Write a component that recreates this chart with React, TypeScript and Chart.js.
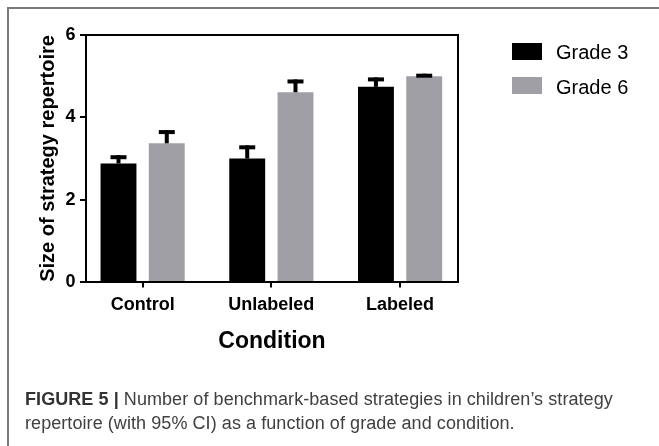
import React, { useEffect, useRef } from "react";
import { Chart, registerables } from "chart.js";

Chart.register(...registerables);

// ---- data ----
const categories = ["Control", "Unlabeled", "Labeled"];
const seriesNames = ["Grade 3", "Grade 6"];
const grade3 = [2.88, 3.0, 4.74];
const grade6 = [3.37, 4.61, 5.0];
const grade3Upper = [3.08, 3.32, 4.97];
const grade6Upper = [3.69, 4.92, 5.06];
const seriesColors = ["#000000", "#a09fa5"];
const yMin = 0;
const yMax = 6;
const yStep = 2;
const xTitle = "Condition";
const yTitle = "Size of strategy repertoire";
const captionBold = "FIGURE 5 |";
const captionLine1 = " Number of benchmark-based strategies in children\u2019s strategy";
const captionLine2 = "repertoire (with 95% CI) as a function of grade and condition.";

const FONT = "'Liberation Sans', Arial, Helvetica, sans-serif";
const uppers = [grade3Upper, grade6Upper];
const values = [grade3, grade6];

const errorBarsPlugin = {
  id: "errorBars",
  afterDatasetsDraw(chart: any) {
    const ctx = chart.ctx;
    const ys = chart.scales.y;
    ctx.save();
    ctx.fillStyle = "#000";
    uppers.forEach((upper, di) => {
      const meta = chart.getDatasetMeta(di);
      meta.data.forEach((bar: any, j: number) => {
        const top = ys.getPixelForValue(upper[j]);
        ctx.fillRect(bar.x - 2, top, 4, Math.max(0, bar.y - top));
        ctx.fillRect(bar.x - 8, top, 16, 4);
      });
    });
    ctx.restore();
  },
};

const boxPlugin = {
  id: "plotBox",
  afterDraw(chart: any) {
    const { left, top, right, bottom } = chart.chartArea;
    const ctx = chart.ctx;
    ctx.save();
    ctx.strokeStyle = "#000";
    ctx.lineWidth = 2;
    ctx.strokeRect(left, top, right - left, bottom - top);
    ctx.restore();
  },
};

export default function App() {
  const ref = useRef<HTMLCanvasElement | null>(null);

  useEffect(() => {
    if (!ref.current) return;
    const chart = new Chart(ref.current, {
      type: "bar",
      data: {
        datasets: values.map((vals, di) => ({
          label: seriesNames[di],
          data: vals.map((v, i) => ({ x: i, y: v })),
          backgroundColor: seriesColors[di],
          borderWidth: 0,
          categoryPercentage: 0.75,
          barPercentage: 0.744,
        })),
      },
      options: {
        animation: false,
        responsive: false,
        maintainAspectRatio: false,
        devicePixelRatio: 1,
        layout: { padding: { left: 0, top: 35, right: 201, bottom: 86 } },
        plugins: { legend: { display: false }, tooltip: { enabled: false } },
        scales: {
          x: {
            type: "linear",
            min: -0.44,
            max: 2.45,
            offset: false,
            afterFit: (s: any) => {
              s.height = 78;
            },
            ticks: {
              stepSize: 1,
              includeBounds: false,
              autoSkip: false,
              maxRotation: 0,
              padding: 6.5,
              color: "#000",
              font: { family: FONT, size: 18, weight: "bold" },
              callback: (v: any) => categories[v] ?? "",
            },
            grid: {
              display: true,
              offset: false,
              drawOnChartArea: false,
              drawTicks: true,
              tickLength: 5.5,
              lineWidth: 2,
              color: "#000",
            },
            border: { display: false },
            title: {
              display: true,
              text: xTitle,
              color: "#000",
              font: { family: FONT, size: 23, weight: "bold" },
              padding: { top: 0, bottom: 5 },
            },
          },
          y: {
            type: "linear",
            min: yMin,
            max: yMax,
            afterFit: (s: any) => {
              s.width = 86;
            },
            ticks: {
              stepSize: yStep,
              padding: 4.5,
              color: "#000",
              font: { family: FONT, size: 18, weight: "bold" },
            },
            grid: {
              display: true,
              drawOnChartArea: false,
              drawTicks: true,
              tickLength: 6,
              lineWidth: 2,
              color: "#000",
            },
            border: { display: false },
            title: {
              display: true,
              text: yTitle,
              color: "#000",
              font: { family: FONT, size: 20, weight: "bold" },
              padding: { top: 36.5, bottom: 0 },
            },
          },
        },
      } as any,
      plugins: [errorBarsPlugin, boxPlugin],
    });
    return () => chart.destroy();
  }, []);

  return (
    <div style={{ position: "absolute", left: 0, top: 0, width: 659, height: 446, overflow: "hidden", background: "#fff" }}>
      <canvas ref={ref} width={659} height={446} style={{ position: "absolute", left: 0, top: 0, width: 659, height: 446 }} />
      <div
        style={{
          position: "absolute",
          left: 7,
          top: 7,
          width: 652,
          height: 439,
          borderTop: "2px solid #7a7a7a",
          borderLeft: "2px solid #7a7a7a",
          boxSizing: "border-box",
          pointerEvents: "none",
        }}
      />
      {seriesNames.map((name, i) => (
        <div key={name}>
          <div
            style={{
              position: "absolute",
              left: 512,
              top: 43 + i * 34,
              width: 30,
              height: 17,
              background: seriesColors[i],
            }}
          />
          <div
            style={{
              position: "absolute",
              left: 556,
              top: 42.3 + i * 34.3,
              fontFamily: FONT,
              fontSize: 20,
              lineHeight: "20px",
              color: "#000",
              whiteSpace: "nowrap",
            }}
          >
            {name}
          </div>
        </div>
      ))}
      <div
        style={{
          position: "absolute",
          left: 25,
          top: 386.8,
          fontFamily: FONT,
          fontSize: 18,
          lineHeight: "24px",
          letterSpacing: "0.07px",
          color: "#404040",
          whiteSpace: "nowrap",
        }}
      >
        <div>
          <span style={{ fontWeight: "bold", color: "#333" }}>{captionBold}</span>
          {captionLine1}
        </div>
        <div>{captionLine2}</div>
      </div>
    </div>
  );
}
